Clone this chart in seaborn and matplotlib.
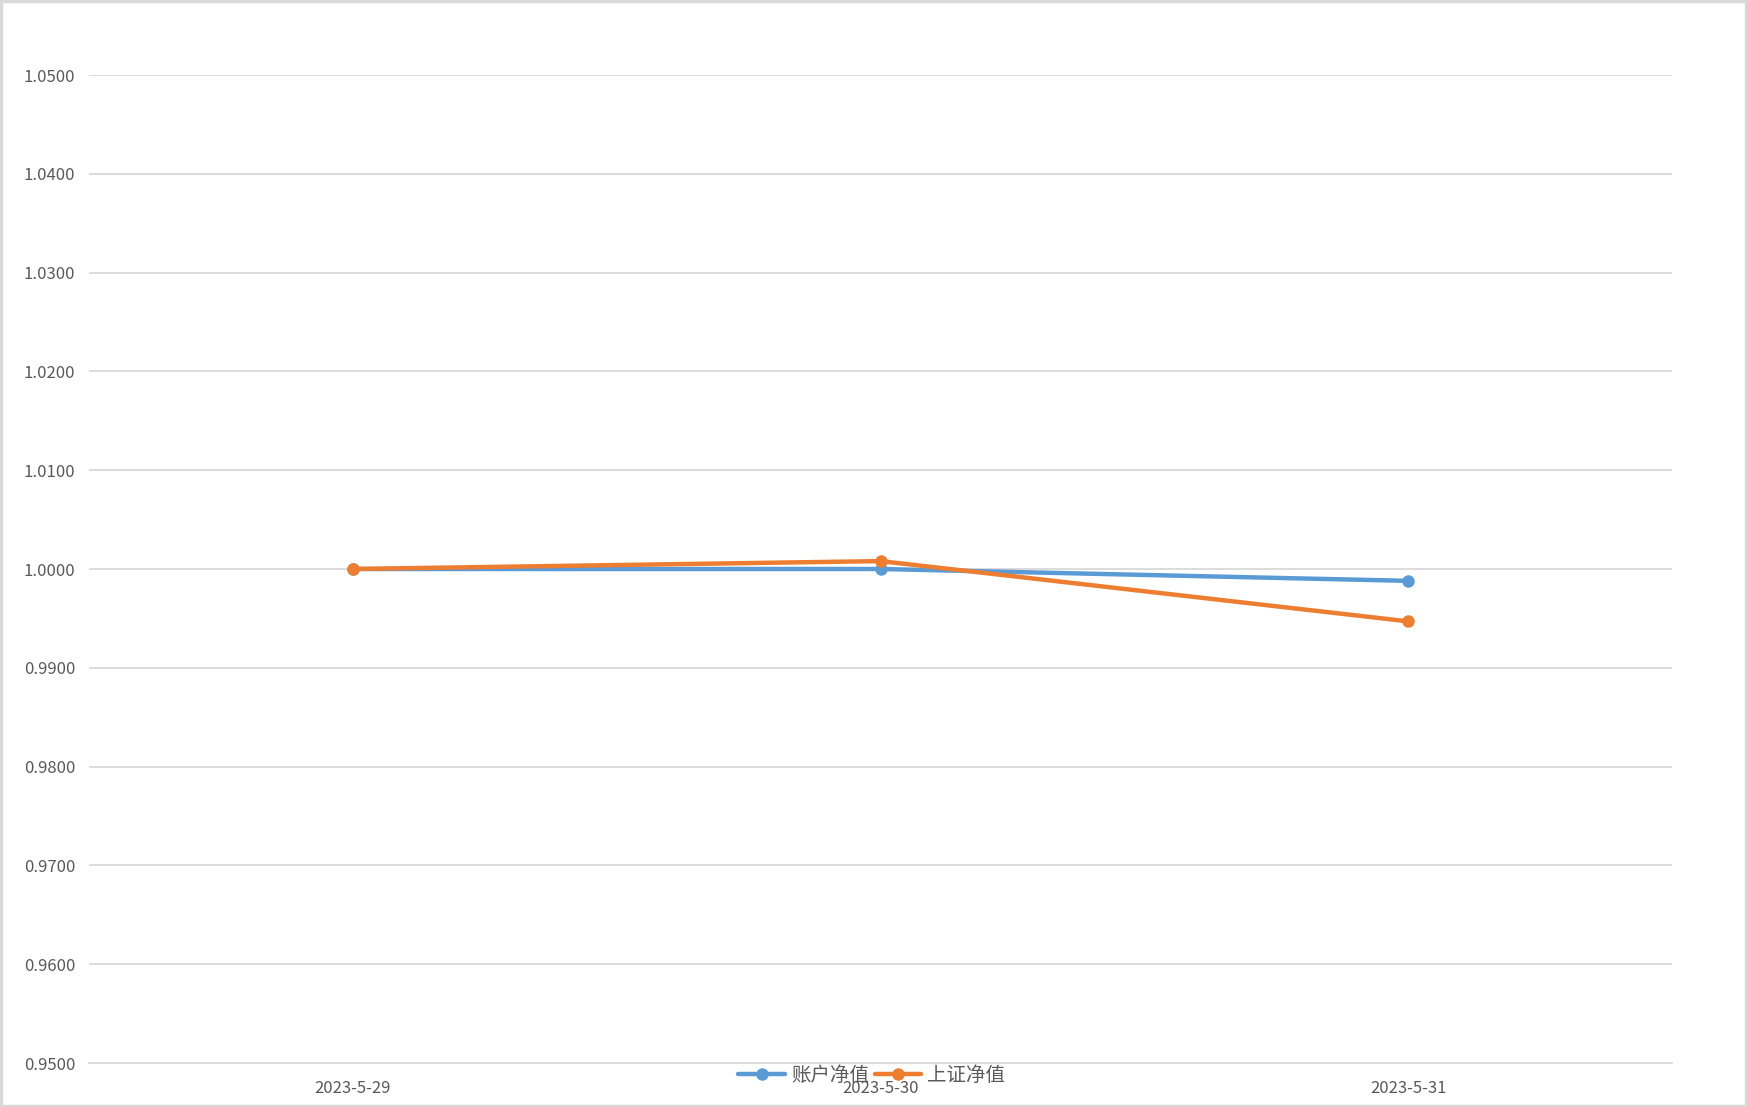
# 账户净值 vs 上证净值 line chart
import numpy as np
import pandas as pd
import matplotlib
matplotlib.use("Agg")
import matplotlib.pyplot as plt
import seaborn as sns

# --------------------------------------------
# Data
# --------------------------------------------
dates = ["2023-5-29", "2023-5-30", "2023-5-31"]
account_nav = [1.0000, 1.0000, 0.9988]
sse_nav = [1.0000, 1.0008, 0.9947]
series_names = ["账户净值", "上证净值"]
y_ticks = [0.95, 0.96, 0.97, 0.98, 0.99, 1.00, 1.01, 1.02, 1.03, 1.04, 1.05]

df = pd.DataFrame({
    "date": dates * 2,
    "nav": account_nav + sse_nav,
    "series": [series_names[0]] * len(dates) + [series_names[1]] * len(dates),
})

# --------------------------------------------
# Style
# --------------------------------------------
sns.set_theme(style="white")
plt.rcParams['font.family'] = ['Noto Sans CJK SC', 'DejaVu Sans']

palette = {series_names[0]: "#5B9BD5", series_names[1]: "#ED7D31"}
grid_color = "#D9D9D9"
text_color = "#595959"

fig = plt.figure(figsize=(17.47, 11.07), dpi=100)
ax = fig.add_axes([89 / 1747, 1 - 1063 / 1107, (1672 - 89) / 1747, (1063 - 75) / 1107])

sns.lineplot(
    data=df, x="date", y="nav", hue="series", hue_order=series_names,
    palette=palette, marker="o", markersize=9, markeredgewidth=0,
    linewidth=3.2, ax=ax, sort=False,
)

# --------------------------------------------
# Axes formatting
# --------------------------------------------
ax.set_ylim(0.95, 1.05)
ax.set_yticks(y_ticks)
ax.set_yticklabels([f"{v:.4f}" for v in y_ticks])
ax.set_xlim(-0.5, len(dates) - 0.5)
ax.set_xlabel("")
ax.set_ylabel("")

ax.yaxis.grid(True, color=grid_color, linewidth=1.3)
ax.set_axisbelow(True)
for side in ["top", "right", "left"]:
    ax.spines[side].set_visible(False)
ax.spines["bottom"].set_color(grid_color)
ax.spines["bottom"].set_linewidth(1.3)

ax.tick_params(axis="y", length=0, pad=10, labelsize=12, labelcolor=text_color)
ax.tick_params(axis="x", length=0, pad=12, labelsize=12, labelcolor=text_color)
ax.set_xticks(np.arange(-0.5, len(dates) + 0.5), minor=True)
ax.tick_params(axis="x", which="minor", length=6, width=1.3, color=grid_color)

# Legend at the bottom centre (overlaps the middle tick label like the original)
handles, labels = ax.get_legend_handles_labels()
ax.get_legend().remove()
fig.legend(
    handles, labels, loc="center", bbox_to_anchor=(0.499, 1 - 1075 / 1107),
    ncol=2, frameon=False, fontsize=14, labelcolor=text_color,
    handlelength=2.4, columnspacing=0.3, handletextpad=0.3,
)

# Light grey frame around the chart
fig.patches.append(plt.Rectangle((0.0005, 0.0008), 0.999, 0.9985, transform=fig.transFigure,
                                 fill=False, edgecolor=grid_color, linewidth=2.5))

fig.savefig("out.png", dpi=100)
